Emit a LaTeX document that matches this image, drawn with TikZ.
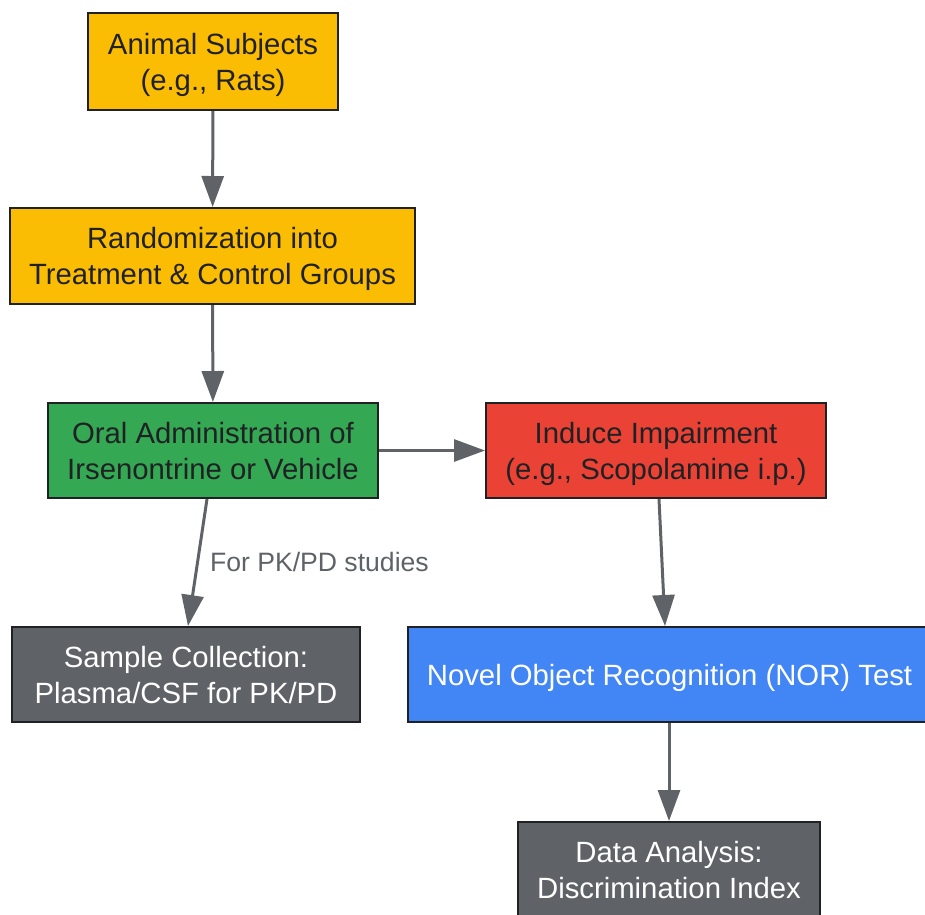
\documentclass[tikz,border=0pt]{standalone}
\usepackage{fontspec}
\setmainfont{Liberation Sans}
\usetikzlibrary{arrows.meta}
\definecolor{gyellow}{HTML}{FBBC04}
\definecolor{ggreen}{HTML}{34A853}
\definecolor{gred}{HTML}{EA4335}
\definecolor{gblue}{HTML}{4285F4}
\definecolor{ggray}{HTML}{5F6368}
\definecolor{gdark}{HTML}{202124}
\tikzset{
  stepbox/.style={draw=gdark, line width=2pt, align=center, inner sep=0pt,
    text=gdark, font=\fontsize{29.3}{36}\selectfont,
    text height=65pt, text depth=8pt},
  onerow/.style={text height=29pt, text depth=8pt},
  darkbox/.style={stepbox, fill=ggray, text=white},
  flow/.style={draw=ggray, line width=3pt, -{Triangle[length=31pt,width=22pt]}}
}

\begin{document}
\begin{tikzpicture}[x=1pt, y=-1pt]
    \useasboundingbox (0,0) rectangle (925,914);
    \node [stepbox, fill=gyellow, minimum width=250pt, minimum height=97pt] (animals) at (213, 61.5) {Animal Subjects\\(e.g., Rats)};
    \node [stepbox, fill=gyellow, minimum width=405pt, minimum height=96pt] (random) at (212.5, 256) {Randomization into\\Treatment \& Control Groups};
    \node [stepbox, fill=ggreen, minimum width=330pt, minimum height=95pt] (oral) at (213, 450.5) {Oral Administration of\\Irsenontrine or Vehicle};
    \node [stepbox, fill=gred, minimum width=340pt, minimum height=95pt] (impair) at (656, 450.5) {Induce Impairment\\(e.g., Scopolamine i.p.)};
    \node [darkbox, minimum width=348pt, minimum height=95pt] (sample) at (186, 674.5) {Sample Collection:\\Plasma/CSF for PK/PD};
    \node [stepbox, onerow, fill=gblue, text=white, minimum width=523pt, minimum height=95pt] (nor) at (669.5, 674.5) {Novel Object Recognition (NOR) Test};
    \node [darkbox, minimum width=302pt, minimum height=95pt] (data) at (669, 869.5) {Data Analysis:\\Discrimination Index};

    \draw [flow] (animals) -- (random);
    \draw [flow] (random) -- (oral);
    \draw [flow] (oral) -- (impair);
    \draw [flow] ([xshift=-6pt]oral.south) -- node [right, xshift=9pt, yshift=1pt, inner sep=2pt, text=ggray, font=\fontsize{26.6}{30}\selectfont] {For PK/PD studies} ([xshift=2pt]sample.north);
    \draw [flow] ([xshift=3pt]impair.south) -- ([xshift=-4.5pt]nor.north);
    \draw [flow] ([xshift=-0.5pt]nor.south) -- (data.north);
  \end{tikzpicture}
\end{document}
